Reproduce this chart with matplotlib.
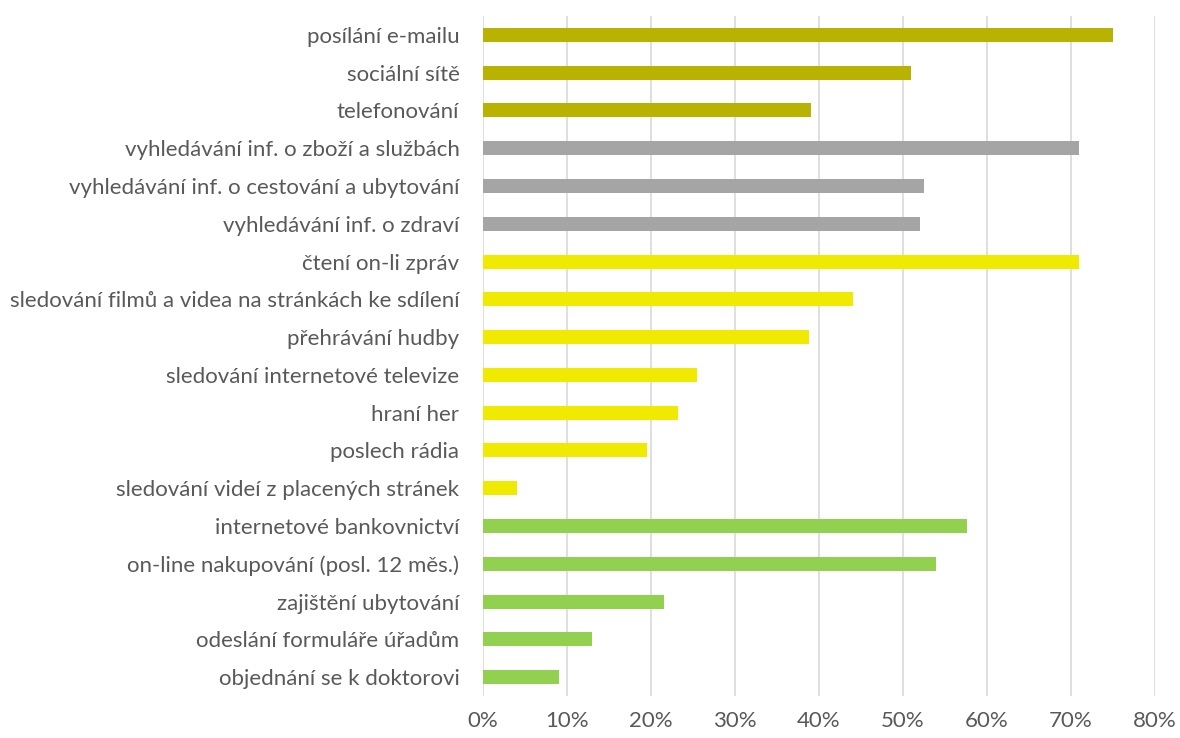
import matplotlib
matplotlib.use("Agg")
import matplotlib.pyplot as plt
from matplotlib.ticker import PercentFormatter

categories = [
    "posílání e-mailu",
    "sociální sítě",
    "telefonování",
    "vyhledávání inf. o zboží a službách",
    "vyhledávání inf. o cestování a ubytování",
    "vyhledávání inf. o zdraví",
    "čtení on-li zpráv",
    "sledování filmů a videa na stránkách ke sdílení",
    "přehrávání hudby",
    "sledování internetové televize",
    "hraní her",
    "poslech rádia",
    "sledování videí z placených stránek",
    "internetové bankovnictví",
    "on-line nakupování (posl. 12 měs.)",
    "zajištění ubytování",
    "odeslání formuláře úřadům",
    "objednání se k doktorovi",
]
values = [75.0, 51.0, 39.0, 71.0, 52.5, 52.0, 71.0, 44.1, 38.8, 25.5, 23.2,
          19.5, 4.0, 57.6, 53.9, 21.6, 13.0, 9.0]
groups = ["comm"] * 3 + ["info"] * 3 + ["media"] * 7 + ["serv"] * 5
group_colors = {"comm": "#B8B200", "info": "#A5A5A5", "media": "#F0E900", "serv": "#92D050"}
xticks = [0, 10, 20, 30, 40, 50, 60, 70, 80]

plt.rcParams['font.family'] = ['Lato', 'DejaVu Sans']

fig = plt.figure(figsize=(11.8, 7.38), dpi=100)
ax = fig.add_axes([483/1180, 1 - 696/738, (1155-483)/1180, (696-16)/738])

ypos = list(range(len(categories)))
colors = [group_colors[g] for g in groups]
ax.barh(ypos, values, height=0.37, color=colors, zorder=3)

ax.set_xlim(0, 80)
ax.set_ylim(len(categories) - 0.5, -0.5)
ax.set_xticks(xticks)
ax.xaxis.set_major_formatter(PercentFormatter(decimals=0))
ax.set_yticks(ypos)
ax.set_yticklabels(categories)
ax.grid(axis="x", color="#D9D9D9", linewidth=1.2, zorder=0)
ax.set_axisbelow(True)
for s in ax.spines.values():
    s.set_visible(False)
ax.tick_params(axis="both", length=0, labelsize=16, colors="#595959")
ax.tick_params(axis="y", pad=17)
ax.tick_params(axis="x", pad=11)

fig.savefig("out.png", dpi=100)
